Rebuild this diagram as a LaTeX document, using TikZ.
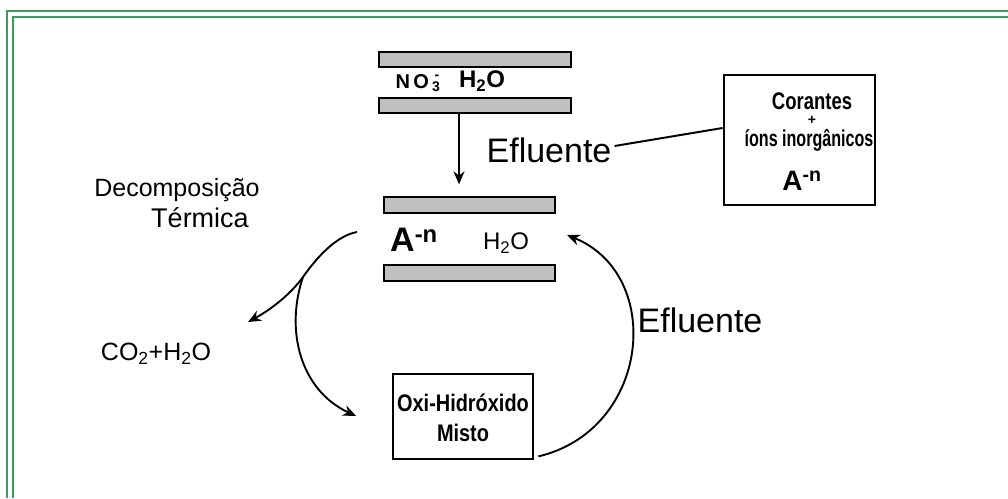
\documentclass[tikz,border=0pt]{standalone}
\usepackage{fontspec}
\setmainfont{Liberation Sans}
\usetikzlibrary{arrows.meta}
\definecolor{framegreen}{RGB}{58,156,98}
\definecolor{barfill}{RGB}{192,192,192}
\newcommand{\narrowtxt}[2][0.8]{\scalebox{#1}[1]{#2}}
\newcommand{\fs}[1]{\fontsize{#1}{#1}\selectfont}
\begin{document}
\begin{tikzpicture}[x=1pt,y=-1pt,
  bar/.style={draw=black, fill=barfill, line width=1.3pt, minimum height=15pt, inner sep=0pt},
  box/.style={draw=black, line width=2.8pt, inner sep=0pt},
  conn/.style={line width=2pt},
  arr/.style={line width=1.9pt, -{Stealth[length=13pt,width=11pt]}},
  txt/.style={inner sep=0pt}]
\useasboundingbox (0,0) rectangle (1008,498);
\fill[white] (0,0) rectangle (1008,498);

% double green frame
\draw[framegreen, line width=2.6pt] (7,498) -- (7,11) -- (1008,11);
\draw[framegreen, line width=2.6pt] (13,498) -- (13,17) -- (1008,17);

% upper membrane pair
\node[bar, minimum width=192pt] (b1) at (475,59.5) {};
\node[bar, minimum width=192pt] (b2) at (475,105.5) {};
\node[txt, font=\bfseries\fs{20}] (no3) at (418,83) {N\,O\,\rlap{\raisebox{1pt}{\textsuperscript{\,-}}}\textsubscript{3}};
\node[txt, font=\bfseries\fs{24}] (h2oa) at (482,81) {H\textsubscript{2}O};

% lower membrane pair
\node[bar, minimum width=171pt, minimum height=16pt] (b3) at (469.5,205) {};
\node[bar, minimum width=171pt, minimum height=16pt] (b4) at (469.5,273) {};
\node[txt, font=\bfseries\fs{34}] (an) at (414,240) {A\textsuperscript{-n}};
\node[txt, font=\fs{24}] (h2ob) at (506,243) {H\textsubscript{2}O};

\draw[arr] ([xshift=-16pt]b2.south) -- ([xshift=-10.5pt,yshift=12pt]b3.north);

% effluent label and source box
\node[txt, font=\fs{34}] (ef1) at (549,150) {Efluente};
\node[box, minimum width=151pt, minimum height=130pt] (src) at (799.5,140) {};
\node[txt, font=\bfseries\fs{24}] (cor) at (812,101) {\narrowtxt[0.77]{Corantes}};
\node[txt, font=\bfseries\fs{14}] (plus) at (812,120) {+};
\node[txt, font=\bfseries\fs{23}] (ions) at (809,140) {\narrowtxt[0.7]{íons inorgânicos}};
\node[txt, font=\bfseries\fs{28}] (asrc) at (802,181) {A\textsuperscript{-n}};
\draw[conn] ([xshift=3pt,yshift=4pt]ef1.east) -- ([yshift=12pt]src.west);

% thermal decomposition
\node[txt, font=\fs{25}] (dec) at (177,190) {Decomposição};
\node[txt, font=\fs{27}] (term) at (200,218) {Térmica};
\node[txt, font=\fs{25}] (co2) at (156,354) {CO\textsubscript{2}+H\textsubscript{2}O};
\coordinate (dstart) at (357,232);
\coordinate (branch) at (303,277);
\coordinate (co2tip) at (248,322);
\coordinate (oxitip) at (356,416);
\draw[arr] (dstart) .. controls (335,236) and (315,260) .. (branch)
  .. controls (290,295) and (270,310) .. (co2tip);
\draw[arr] (branch) .. controls (285,330) and (300,390) .. (oxitip);

% mixed oxy-hydroxide
\node[box, minimum width=140pt, minimum height=85pt] (oxi) at (463,416.5) {};
\node[txt, font=\bfseries\fs{24}] (oxi1) at (463,403) {\narrowtxt[0.83]{Oxi-Hidróxido}};
\node[txt, font=\bfseries\fs{24}] (oxi2) at (463,433) {\narrowtxt[0.83]{Misto}};

% return effluent
\coordinate (rettip) at (567,235);
\draw[arr] ([xshift=4pt,yshift=4pt]oxi.south east) .. controls (650,430) and (665,275) .. (rettip);
\node[txt, font=\fs{34}] (ef2) at (700,320) {Efluente};
\end{tikzpicture}
\end{document}
